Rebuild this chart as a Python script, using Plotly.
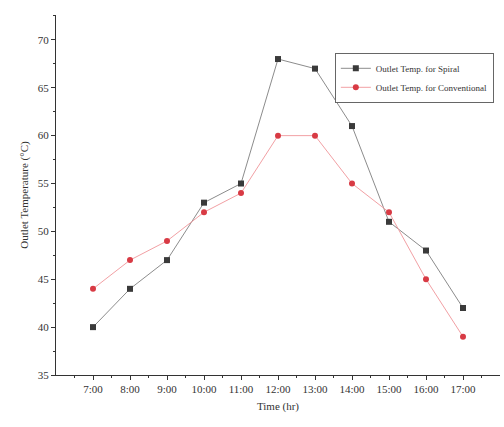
import plotly.graph_objects as go

times = ["7:00", "8:00", "9:00", "10:00", "11:00", "12:00", "13:00", "14:00", "15:00", "16:00", "17:00"]
spiral = [40, 44, 47, 53, 55, 68, 67, 61, 51, 48, 42]
conventional = [44, 47, 49, 52, 54, 60, 60, 55, 52, 45, 39]
xi = list(range(len(times)))

font = "Liberation Serif, Times New Roman, serif"

fig = go.Figure()
fig.add_trace(go.Scatter(
    x=xi, y=spiral, mode="lines+markers", name="Outlet Temp. for Spiral",
    line=dict(color="#8c8c8c", width=1),
    marker=dict(symbol="square", size=6, color="#3a3a3a"),
))
fig.add_trace(go.Scatter(
    x=xi, y=conventional, mode="lines+markers", name="Outlet Temp. for Conventional",
    line=dict(color="#f2a0a4", width=1),
    marker=dict(symbol="circle", size=6, color="#d83a44"),
))

fig.update_layout(
    width=504, height=427,
    margin=dict(l=56, r=4, t=15, b=52),
    paper_bgcolor="white", plot_bgcolor="white",
    font=dict(family=font, color="#333333", size=11),
    showlegend=True,
    legend=dict(
        x=0.628, y=0.895, xanchor="left", yanchor="top",
        bordercolor="#666666", borderwidth=1, bgcolor="white",
        font=dict(size=9, family=font), tracegroupgap=0,
        itemwidth=30,
    ),
    xaxis=dict(
        range=[-1, 11], tickmode="array", tickvals=xi, ticktext=times,
        showline=True, linecolor="#333333", linewidth=1,
        ticks="outside", ticklen=4, tickcolor="#333333",
        minor=dict(tickmode="array", tickvals=[v + 0.5 for v in range(-1, 11)], ticks="outside", ticklen=2, tickcolor="#333333"),
        showgrid=False, zeroline=False,
        title=dict(text="Time (hr)", font=dict(size=11), standoff=8),
        tickfont=dict(size=11),
    ),
    yaxis=dict(
        range=[35, 72.6], tickmode="array", tickvals=[35, 40, 45, 50, 55, 60, 65, 70],
        showline=True, linecolor="#333333", linewidth=1,
        ticks="outside", ticklen=4, tickcolor="#333333",
        minor=dict(tickmode="array", tickvals=[37.5, 42.5, 47.5, 52.5, 57.5, 62.5, 67.5, 72.5], ticks="outside", ticklen=2, tickcolor="#333333"),
        showgrid=False, zeroline=False,
        title=dict(text="Outlet Temperature (°C)", font=dict(size=11), standoff=6),
        tickfont=dict(size=11),
    ),
)

fig.write_html("out.html")
